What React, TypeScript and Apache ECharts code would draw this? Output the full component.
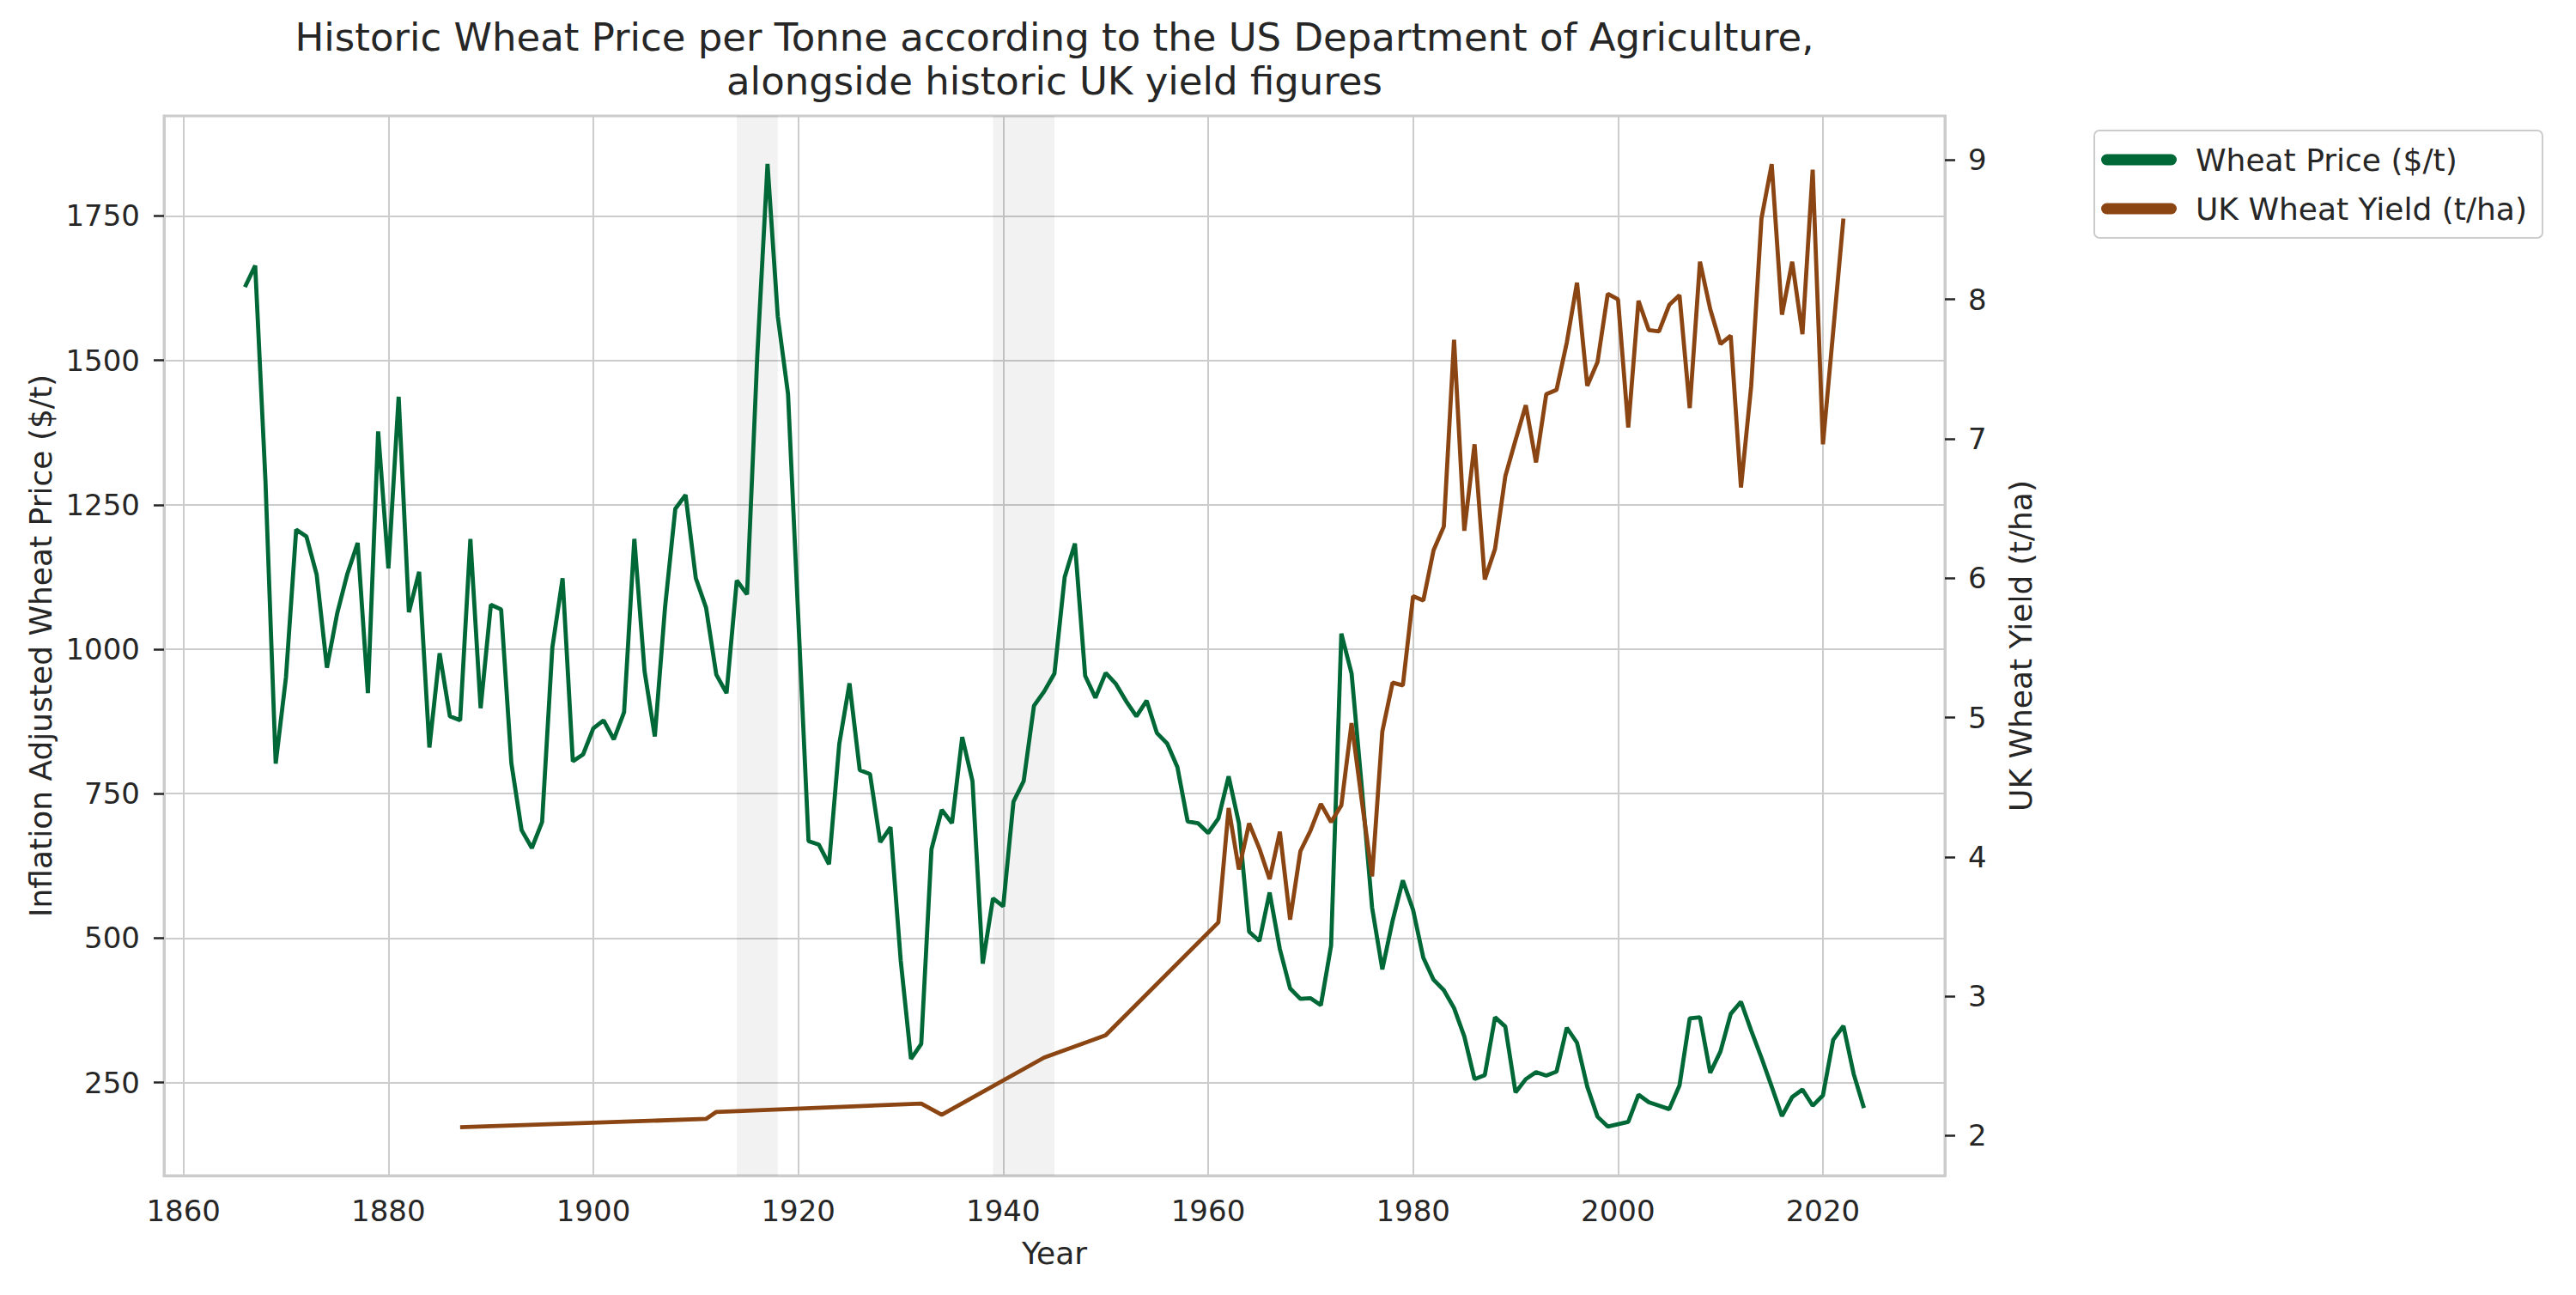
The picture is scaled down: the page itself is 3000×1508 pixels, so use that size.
import React, { useEffect, useRef } from "react";
import * as echarts from "echarts";

// valores
const priceYears = [
  1866, 1867, 1868, 1869, 1870, 1871, 1872, 1873, 1874, 1875, 1876, 1877, 1878, 1879,
  1880, 1881, 1882, 1883, 1884, 1885, 1886, 1887, 1888, 1889, 1890, 1891, 1892, 1893,
  1894, 1895, 1896, 1897, 1898, 1899, 1900, 1901, 1902, 1903, 1904, 1905, 1906, 1907,
  1908, 1909, 1910, 1911, 1912, 1913, 1914, 1915, 1916, 1917, 1918, 1919, 1920, 1921,
  1922, 1923, 1924, 1925, 1926, 1927, 1928, 1929, 1930, 1931, 1932, 1933, 1934, 1935,
  1936, 1937, 1938, 1939, 1940, 1941, 1942, 1943, 1944, 1945, 1946, 1947, 1948, 1949,
  1950, 1951, 1952, 1953, 1954, 1955, 1956, 1957, 1958, 1959, 1960, 1961, 1962, 1963,
  1964, 1965, 1966, 1967, 1968, 1969, 1970, 1971, 1972, 1973, 1974, 1975, 1976, 1977,
  1978, 1979, 1980, 1981, 1982, 1983, 1984, 1985, 1986, 1987, 1988, 1989, 1990, 1991,
  1992, 1993, 1994, 1995, 1996, 1997, 1998, 1999, 2000, 2001, 2002, 2003, 2004, 2005,
  2006, 2007, 2008, 2009, 2010, 2011, 2012, 2013, 2014, 2015, 2016, 2017, 2018, 2019,
  2020, 2021, 2022, 2023, 2024,
];

const priceValues = [
  1627, 1664, 1292, 802, 951, 1207, 1195, 1129, 968, 1062, 1131, 1184, 924, 1377,
  1140, 1437, 1064, 1134, 830, 993, 884, 877, 1191, 898, 1077, 1069, 803, 687,
  656, 701, 1003, 1123, 806, 818, 863, 877, 844, 891, 1191, 962, 849, 1073,
  1243, 1267, 1123, 1072, 956, 924, 1119, 1095, 1508, 1840, 1576, 1442, 1055, 668,
  662, 628, 836, 941, 791, 784, 666, 692, 461, 291, 317, 654, 722, 699,
  848, 772, 456, 569, 555, 736, 772, 902, 927, 958, 1125, 1183, 954, 916,
  959, 940, 910, 884, 911, 855, 837, 796, 702, 699, 682, 707, 780, 699,
  511, 495, 579, 481, 413, 395, 396, 384, 487, 1027, 958, 760, 553, 446,
  530, 600, 549, 466, 428, 410, 379, 330, 256, 263, 363, 347, 233, 256,
  268, 262, 269, 345, 319, 243, 191, 174, 178, 182, 229, 216, 210, 204,
  245, 361, 363, 267, 304, 369, 390, 340, 293, 243, 192, 225, 238, 210,
  228, 324, 348, 265, 206,
];

const yieldYears = [
  1887, 1911, 1912, 1932, 1934, 1944, 1950, 1961, 1962, 1963, 1964, 1965, 1966, 1967,
  1968, 1969, 1970, 1971, 1972, 1973, 1974, 1975, 1976, 1977, 1978, 1979, 1980, 1981,
  1982, 1983, 1984, 1985, 1986, 1987, 1988, 1989, 1990, 1991, 1992, 1993, 1994, 1995,
  1996, 1997, 1998, 1999, 2000, 2001, 2002, 2003, 2004, 2005, 2006, 2007, 2008, 2009,
  2010, 2011, 2012, 2013, 2014, 2015, 2016, 2017, 2018, 2019, 2020, 2022,
];

const yieldValues = [
  2.06, 2.12, 2.17, 2.23, 2.15, 2.56, 2.72, 3.53, 4.35, 3.91, 4.24, 4.06, 3.84, 4.18,
  3.55, 4.04, 4.19, 4.38, 4.25, 4.37, 4.96, 4.4, 3.86, 4.9, 5.25, 5.23, 5.87, 5.84,
  6.2, 6.37, 7.71, 6.34, 6.96, 5.99, 6.21, 6.73, 6.99, 7.24, 6.83, 7.32, 7.35, 7.69,
  8.12, 7.38, 7.55, 8.04, 8.0, 7.08, 7.99, 7.78, 7.77, 7.96, 8.03, 7.22, 8.27, 7.93,
  7.68, 7.74, 6.65, 7.38, 8.58, 8.97, 7.89, 8.27, 7.75, 8.93, 6.96, 8.58,
];

// periodos de guerra sombreados
const warPeriods = [
  [1914, 1918],
  [1939, 1945],
];

const yearTicks = [1860, 1880, 1900, 1920, 1940, 1960, 1980, 2000, 2020];
const priceTicks = [250, 500, 750, 1000, 1250, 1500, 1750];
const yieldTicks = [2, 3, 4, 5, 6, 7, 8, 9];

const FONT = "DejaVu Sans";
const TEXT = "#262626";
const GRID = "#cccccc";
const GREEN = "#006837";
const BROWN = "#8B4513";
const PILL = "path://M6.5,0 L81.5,0 A6.5,6.5 0 0 1 81.5,13 L6.5,13 A6.5,6.5 0 0 1 6.5,0 Z";

const plain = (v: number) => String(v);

const App: React.FC = () => {
  const chartRef = useRef<HTMLDivElement>(null);

  useEffect(() => {
    if (!chartRef.current) return;

    const chart = echarts.init(chartRef.current, undefined, { renderer: "svg" });

    const option: echarts.EChartsOption = {
      animation: false,
      backgroundColor: "#ffffff",
      textStyle: { fontFamily: FONT, color: TEXT },
      title: {
        text:
          "Historic Wheat Price per Tonne according to the US Department of Agriculture,\nalongside historic UK yield figures",
        left: 1228,
        top: 18,
        textAlign: "center",
        padding: 0,
        textStyle: {
          fontFamily: FONT,
          fontSize: 45,
          fontWeight: "normal",
          color: TEXT,
          lineHeight: 51,
        },
      },
      legend: {
        orient: "vertical",
        left: 2439,
        top: 152,
        padding: [16, 18, 16, 8],
        itemWidth: 88,
        itemHeight: 13,
        itemGap: 21,
        icon: PILL,
        backgroundColor: "#ffffff",
        borderColor: GRID,
        borderWidth: 2,
        borderRadius: 6,
        textStyle: { fontFamily: FONT, fontSize: 36, color: TEXT, padding: [0, 0, 0, 17] },
        data: ["Wheat Price ($/t)", "UK Wheat Yield (t/ha)"],
      },
      grid: {
        left: 191,
        top: 135,
        width: 2074,
        height: 1234,
        show: true,
        borderColor: GRID,
        borderWidth: 3,
        backgroundColor: "transparent",
      },
      xAxis: {
        type: "value",
        min: 1858.1,
        max: 2031.9,
        name: "Year",
        nameLocation: "middle",
        nameGap: 72,
        nameTextStyle: { fontFamily: FONT, fontSize: 36, color: TEXT },
        axisLine: { show: true, lineStyle: { color: GRID, width: 3 } },
        axisTick: { show: false, customValues: yearTicks },
        axisLabel: { customValues: yearTicks, formatter: plain, fontSize: 34, color: TEXT, margin: 24 },
        splitLine: { show: true, lineStyle: { color: GRID, width: 2 } },
      } as any,
      yAxis: [
        {
          type: "value",
          position: "left",
          min: 89,
          max: 1923,
          name: "Inflation Adjusted Wheat Price ($/t)",
          nameLocation: "middle",
          nameGap: 115,
          nameRotate: 90,
          nameTextStyle: { fontFamily: FONT, fontSize: 36, color: TEXT },
          axisLine: { show: true, lineStyle: { color: GRID, width: 3 } },
          axisTick: {
            show: true,
            length: 12,
            customValues: priceTicks,
            lineStyle: { color: TEXT, width: 2.5 },
          },
          axisLabel: { customValues: priceTicks, formatter: plain, fontSize: 34, color: TEXT, margin: 28 },
          splitLine: { show: true, lineStyle: { color: GRID, width: 2 } },
        } as any,
        {
          type: "value",
          position: "right",
          min: 1.713,
          max: 9.316,
          name: "UK Wheat Yield (t/ha)",
          nameLocation: "middle",
          nameGap: 70,
          nameRotate: 90,
          nameTextStyle: { fontFamily: FONT, fontSize: 36, color: TEXT },
          axisLine: { show: true, lineStyle: { color: GRID, width: 3 } },
          axisTick: {
            show: true,
            length: 12,
            customValues: yieldTicks,
            lineStyle: { color: TEXT, width: 2.5 },
          },
          axisLabel: { customValues: yieldTicks, formatter: plain, fontSize: 34, color: TEXT, margin: 27 },
          splitLine: { show: false },
        } as any,
      ],
      series: [
        {
          name: "Wheat Price ($/t)",
          type: "line",
          yAxisIndex: 0,
          showSymbol: false,
          data: priceYears.map((y, i) => [y, priceValues[i]]),
          lineStyle: { width: 4.8, color: GREEN },
          itemStyle: { color: GREEN },
          markArea: {
            silent: true,
            itemStyle: { color: "rgba(0,0,0,0.05)" },
            data: warPeriods.map(([a, b]) => [{ xAxis: a }, { xAxis: b }]) as any,
          },
        },
        {
          name: "UK Wheat Yield (t/ha)",
          type: "line",
          yAxisIndex: 1,
          showSymbol: false,
          data: yieldYears.map((y, i) => [y, yieldValues[i]]),
          lineStyle: { width: 4.8, color: BROWN },
          itemStyle: { color: BROWN },
        },
      ],
    };

    chart.setOption(option);

    return () => {
      chart.dispose();
    };
  }, []);

  return (
    <div
      ref={chartRef}
      style={{ position: "fixed", left: 0, top: 0, width: "3000px", height: "1508px" }}
    />
  );
};

export default App;
